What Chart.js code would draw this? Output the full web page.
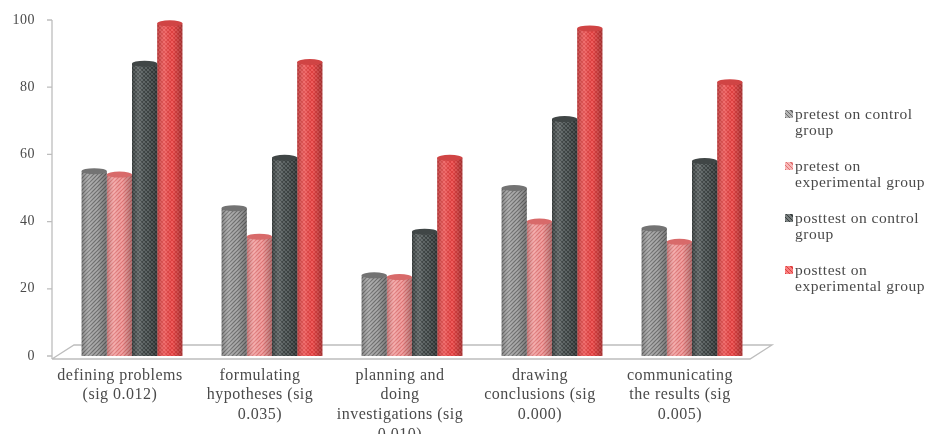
<!DOCTYPE html>
<html>
<head>
<meta charset="utf-8">
<script src="https://cdn.jsdelivr.net/npm/chart.js@4.4.0/dist/chart.umd.min.js"></script>
<style>
  html, body { margin: 0; padding: 0; background: #fff; }
  #wrap { position: relative; width: 931px; height: 434px; overflow: hidden; }
  #legend { position: absolute; left: 784px; top: 106px; font-family: "Liberation Serif", "Times New Roman", serif;
            font-size: 15.5px; letter-spacing: 0.5px; line-height: 16px; color: #4a4a4a; white-space: nowrap; }
  .item { position: relative; height: 52px; padding-left: 11px; }
  .mark { position: absolute; left: 1px; top: 4px; width: 8px; height: 8px; }
</style>
</head>
<body>
<div id="wrap">
  <canvas id="c" width="931" height="434"></canvas>
  <div id="legend"></div>
</div>
<script>
// Skill categories (x axis labels, wrapped)
const categories = [
  ["defining problems", "(sig 0.012)"],
  ["formulating", "hypotheses (sig", "0.035)"],
  ["planning and", "doing", "investigations (sig", "0.010)"],
  ["drawing", "conclusions (sig", "0.000)"],
  ["communicating", "the results (sig", "0.005)"]
];

// Series names (legend, wrapped)
const seriesNames = [
  ["pretest on control", "group"],
  ["pretest on", "experimental group"],
  ["posttest on control", "group"],
  ["posttest on", "experimental group"]
];

// Scores per category
const pretestControl      = [55, 44, 24, 50, 38];
const pretestExperimental = [54, 35.5, 23.5, 40, 34];
const posttestControl     = [87, 59, 37, 70.5, 58];
const posttestExperimental = [99, 87.5, 59, 97.5, 81.5];

// Value axis ticks
const yTicks = [0, 20, 40, 60, 80, 100];

// Bar textures
function texture(bg, fg, cross) {
  const c = document.createElement('canvas');
  c.width = c.height = 4;
  const x = c.getContext('2d');
  x.fillStyle = bg; x.fillRect(0, 0, 4, 4);
  x.strokeStyle = fg; x.lineWidth = 1.1;
  x.beginPath();
  x.moveTo(0, 4); x.lineTo(4, 0);
  x.moveTo(-1, 1); x.lineTo(1, -1);
  x.moveTo(3, 5); x.lineTo(5, 3);
  if (cross) {
    x.moveTo(0, 0); x.lineTo(4, 4);
    x.moveTo(-1, 3); x.lineTo(1, 5);
    x.moveTo(3, -1); x.lineTo(5, 1);
  }
  x.stroke();
  return document.getElementById('c').getContext('2d').createPattern(c, 'repeat');
}

const styles = [
  { bg: '#ababab', fg: '#6e6e6e', cross: false, cap: '#737373' },
  { bg: '#f6a6a6', fg: '#e07474', cross: false, cap: '#d86a6a' },
  { bg: '#6c7474', fg: '#3c4242', cross: true,  cap: '#404646' },
  { bg: '#f76868', fg: '#de4040', cross: true,  cap: '#d04444' }
];
const seriesValues = [pretestControl, pretestExperimental, posttestControl, posttestExperimental];

// Floor, value axis line, tick marks and cylinder shading
const frame = {
  id: 'frame',
  beforeDraw(chart) {
    chart.ctx.letterSpacing = '0.5px';
  },
  beforeDatasetsDraw(chart) {
    const ctx = chart.ctx, a = chart.chartArea, y = chart.scales.y;
    const axisX = a.left - 10;
    const front = y.getPixelForValue(0) + 3;
    const back = front - 14;
    ctx.save();
    ctx.strokeStyle = '#bdbdbd';
    ctx.lineWidth = 1.3;
    ctx.beginPath();
    ctx.moveTo(axisX, front); ctx.lineTo(a.right - 12, front);
    ctx.lineTo(a.right + 10, back); ctx.lineTo(axisX + 22, back);
    ctx.lineTo(axisX, front);
    ctx.stroke();
    ctx.beginPath();
    ctx.moveTo(axisX, y.getPixelForValue(100)); ctx.lineTo(axisX, front);
    ctx.stroke();
    ctx.beginPath();
    yTicks.forEach(v => {
      const py = y.getPixelForValue(v);
      ctx.moveTo(axisX - 5, py); ctx.lineTo(axisX, py);
    });
    ctx.stroke();
    ctx.restore();
  },
  afterDatasetsDraw(chart) {
    const ctx = chart.ctx;
    ctx.save();
    chart.data.datasets.forEach((ds, i) => {
      const meta = chart.getDatasetMeta(i);
      meta.data.forEach(bar => {
        const w = bar.width, l = bar.x - w / 2;
        const g = ctx.createLinearGradient(l, 0, l + w, 0);
        g.addColorStop(0, 'rgba(0,0,0,0.22)');
        g.addColorStop(0.3, 'rgba(255,255,255,0.12)');
        g.addColorStop(0.6, 'rgba(0,0,0,0)');
        g.addColorStop(1, 'rgba(0,0,0,0.28)');
        ctx.fillStyle = g;
        ctx.fillRect(l, bar.y, w, bar.base - bar.y);
        ctx.beginPath();
        ctx.ellipse(bar.x, bar.y, w / 2, 3, 0, 0, Math.PI * 2);
        ctx.fillStyle = styles[i].cap;
        ctx.fill();
      });
    });
    ctx.restore();
  }
};

const chart = new Chart(document.getElementById('c'), {
  type: 'bar',
  data: {
    labels: categories,
    datasets: seriesValues.map((vals, i) => ({
      label: seriesNames[i].join(' '),
      data: vals,
      backgroundColor: texture(styles[i].bg, styles[i].fg, styles[i].cross),
      borderWidth: 0,
      barPercentage: 1,
      categoryPercentage: 0.72
    }))
  },
  options: {
    responsive: false,
    animation: false,
    events: [],
    layout: { autoPadding: false, padding: { left: 0, right: 169, top: 20, bottom: 0 } },
    plugins: { legend: { display: false }, tooltip: { enabled: false } },
    scales: {
      x: {
        grid: { display: false },
        border: { display: false },
        afterFit(s) { s.height = 78; },
        ticks: {
          autoSkip: false, maxRotation: 0, padding: 2, labelOffset: -12,
          color: '#4a4a4a',
          font: { family: '"Liberation Serif", serif', size: 16, lineHeight: 1.22 }
        }
      },
      y: {
        min: 0, max: 100,
        grid: { display: false, drawTicks: false },
        border: { display: false },
        afterFit(s) { s.width = 62; s.paddingTop = 0; s.paddingBottom = 0; },
        afterBuildTicks(s) { s.ticks = yTicks.map(v => ({ value: v })); },
        ticks: {
          padding: 27, color: '#4a4a4a',
          font: { family: '"Liberation Serif", serif', size: 14 }
        }
      }
    }
  },
  plugins: [frame]
});

// Legend
const legend = document.getElementById('legend');
const markCss = [
  'repeating-linear-gradient(45deg,#6a6a6a 0 1px,#b5b5b5 1px 3px)',
  'repeating-linear-gradient(45deg,#e07272 0 1px,#f8b8b8 1px 3px)',
  'repeating-linear-gradient(45deg,#3a4040 0 1px,#7a8080 1px 3px),#555',
  'repeating-linear-gradient(45deg,#dc4040 0 1px,#f88080 1px 3px)'
];
seriesNames.forEach((lines, i) => {
  const item = document.createElement('div');
  item.className = 'item';
  const m = document.createElement('span');
  m.className = 'mark';
  m.style.background = markCss[i];
  item.appendChild(m);
  lines.forEach(t => {
    const d = document.createElement('div');
    d.textContent = t;
    item.appendChild(d);
  });
  legend.appendChild(item);
});
</script>
</body>
</html>
